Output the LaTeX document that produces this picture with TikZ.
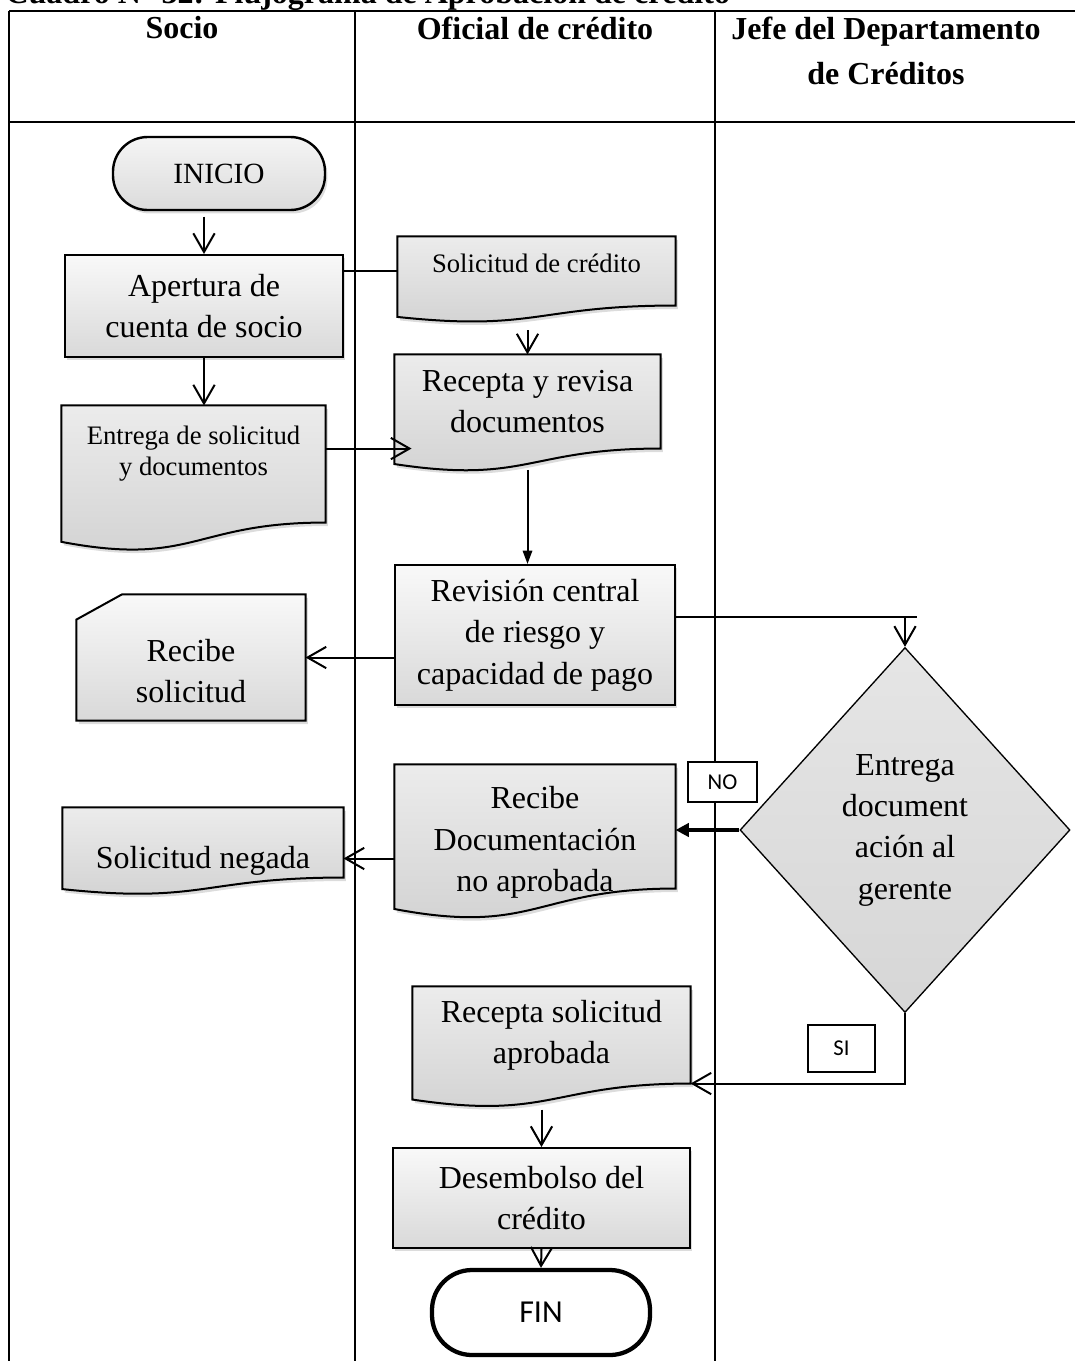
\documentclass[tikz,border=0pt]{standalone}
\usepackage{fontspec}
\setmainfont{Liberation Serif}
\newfontfamily\calibri{Carlito}
\usepackage{tikz}
\usetikzlibrary{arrows.meta, shapes.geometric, shadows, calc, backgrounds}

\begin{document}
\begin{tikzpicture}[
    x=0.375pt,
    y=-0.375pt,
    dims/.style 2 args={minimum width=#1*0.375pt, minimum height=#2*0.375pt},
    body/.style={font=\fontsize{12}{15.5}\selectfont, align=center, inner sep=0pt},
    small/.style={font=\fontsize{10}{11.5}\selectfont, align=center, inner sep=0pt},
    head/.style={font=\fontsize{12}{17}\selectfont\bfseries, align=center, inner sep=0pt},
    shadowed/.style={drop shadow={opacity=0.28, shadow xshift=0.9pt, shadow yshift=-1.3pt}},
    proc/.style={body, rectangle, draw, line width=0.75pt, top color=gray!5, bottom color=gray!30, shadowed},
    docnode/.style={rectangle, inner sep=0pt},
    docline/.style={draw, line width=0.75pt, top color=gray!15, bottom color=gray!36, shadowed},
    term/.style={body, rectangle, rounded corners=13pt, draw, line width=0.9pt},
    tag/.style={draw, line width=0.5pt, fill=white, font=\calibri\fontsize{8.5}{10}\selectfont, inner sep=0pt},
    arr/.style={-{Straight Barb[length=7pt, width=8pt]}, line width=0.75pt},
    farr/.style={-{Triangle[length=5pt, width=3.5pt]}, line width=0.75pt},
    lane/.style={line width=0.9pt}
]

\useasboundingbox (0,0) rectangle (1075,1361);

\node[anchor=base west, inner sep=0pt, font=\fontsize{12}{14}\selectfont\bfseries] (titulo) at (5,3) {Cuadro N° 32: Flujograma de Aprobación de crédito};

\node[head, anchor=north] (hsocio) at (182,16) {Socio};
\node[head, anchor=north] (hoficial) at (535,16) {Oficial de crédito};
\node[head, anchor=north] (hjefe) at (886,16) {Jefe del Departamento\\de Créditos};

\node[term, dims={212}{73}, top color=gray!8, bottom color=gray!28, shadowed, font=\fontsize{11}{13}\selectfont] (inicio) at (219,173.5) {INICIO};
\node[proc, dims={278}{102}] (apertura) at (204,306) {Apertura de\\cuenta de socio};
\node[docnode, dims={277}{68}, label={[small, yshift=3pt]center:Solicitud de crédito}] (solcred) at (536.5,271) {};
\node[docnode, dims={265}{93}, label={[body]center:Recepta y revisa\\documentos}] (recepta) at (527.5,401.5) {};
\node[docnode, dims={263}{116}, label={[small, yshift=4pt]center:Entrega de solicitud\\y documentos}] (entrega) at (193.5,464) {};
\node[proc, dims={280}{140}] (revision) at (535,635) {Revisión central\\de riesgo y\\capacidad de pago};
\node[docnode, dims={228}{125}, label={[body, yshift=-5pt]center:Recibe\\solicitud}] (recibe) at (191,657.5) {};
\node[diamond, draw, line width=0.5pt, top color=gray!20, bottom color=gray!32, dims={330}{365}, body] (entregag) at (905,830) {Entrega\\document\\ación al\\gerente};
\node[docnode, dims={280}{123}, label={[body, yshift=-6pt]center:Recibe\\Documentación\\no aprobada}] (noaprob) at (535,826.5) {};
\node[docnode, dims={280}{69}, label={[body, yshift=-7pt]center:Solicitud negada}] (negada) at (203,842.5) {};
\node[docnode, dims={277}{96}, label={[body]center:Recepta solicitud\\aprobada}] (aprob) at (551.5,1035) {};
\node[proc, dims={297}{100}] (desemb) at (541.5,1198) {Desembolso del\\crédito};
\node[term, dims={218}{85}, fill=white, line width=1.6pt, rounded corners=15pt, font=\calibri\fontsize{12}{14}\selectfont] (fin) at (541,1312.5) {FIN};
\node[tag, dims={69}{40}] (no) at (722.5,782) {NO};
\node[tag, dims={67}{47}] (si) at (841.5,1048.5) {SI};

\begin{pgfonlayer}{background}
\draw[lane] (9,11) -- (1090,11);
\draw[lane] (9,122) -- (1090,122);
\draw[lane] (9,11) -- (9,1375);
\draw[lane] (355,11) -- (355,1375);
\draw[lane] (715,11) -- (715,1375);
\foreach \doc in {solcred, recepta, entrega, noaprob, negada, aprob}
  \path[docline] let \p1=(\doc.north west), \p2=(\doc.south east), \n1={\y1-\y2} in
    (\p1) -- (\x2,\y1) -- (\p2)
    .. controls ({(\x1+\x2)/2},\y2) and ({(\x1+\x2)/2},{\y2-0.38*\n1}) .. (\x1,{\y2-0.165*\n1}) -- cycle;
\path[docline, top color=gray!5, bottom color=gray!30] ([xshift=17pt]recibe.north west) -- (recibe.north east) -- (recibe.south east) -- (recibe.south west) -- ([yshift=-9.4pt]recibe.north west) -- cycle;
\end{pgfonlayer}

\coordinate (cruce) at (905,617);

\draw[arr] ([yshift=-2pt]inicio.south -| apertura.north) -- (apertura.north);
\draw[line width=0.75pt] (solcred.west -| apertura.east) -- (solcred.west);
\draw[arr] ([yshift=9pt]recepta.north) -- (recepta.north);
\draw[arr] (apertura.south) -- (apertura.south |- entrega.north);
\draw[arr] (entrega.east |- recepta.south west) -- ([xshift=6.4pt]recepta.south west);
\draw[farr] ([yshift=-8pt]recepta.south) -- (recepta.south |- revision.north);
\draw[arr] (revision.west |- recibe.east) -- (recibe.east);
\draw[line width=0.75pt] (revision.east |- cruce) -- ([xshift=4.5pt]cruce);
\draw[arr] (cruce) -- (entregag.north);
\draw[-{Triangle[length=5pt, width=5pt]}, line width=1.2pt] (entregag.west) -- (noaprob.east |- entregag.west);
\draw[arr] ($(noaprob.west |- negada.east)+(0,16)$) -- ($(negada.east)+(0,16)$);
\draw[arr] (entregag.south) |- (aprob.south east);
\draw[arr] ([yshift=14pt]desemb.north) -- (desemb.north);
\draw[arr] (desemb.south) -- (fin.north);

\end{tikzpicture}
\end{document}
